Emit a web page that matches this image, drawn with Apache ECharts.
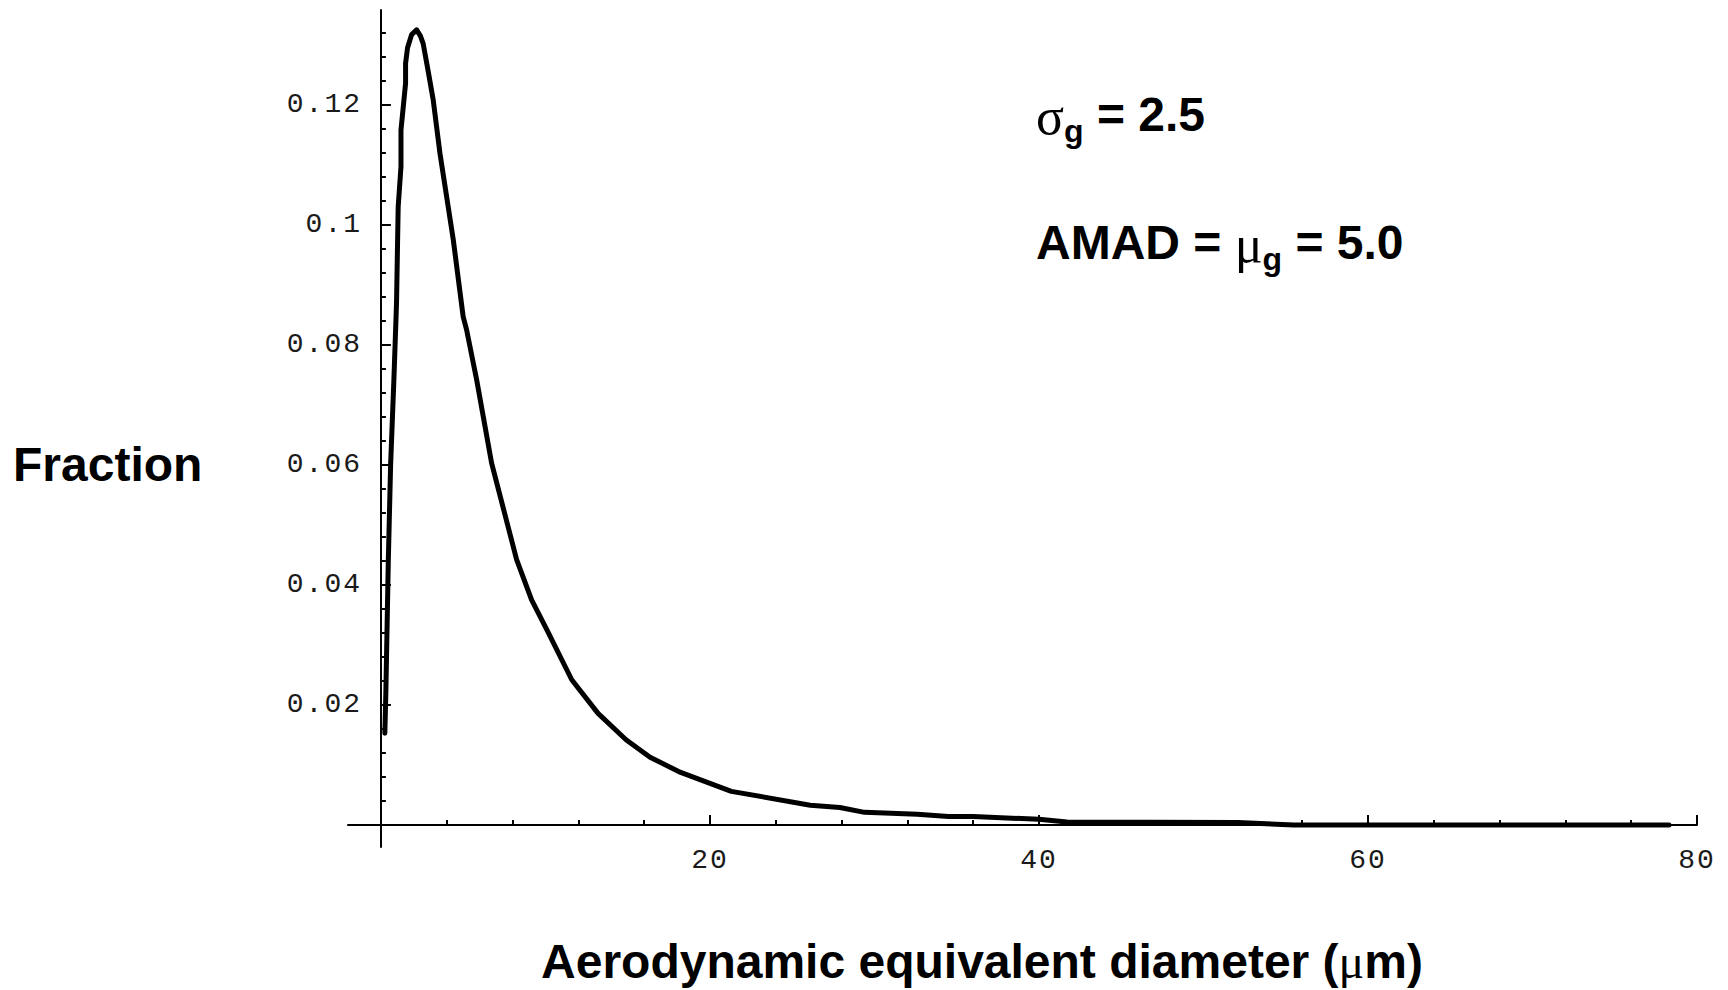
<!DOCTYPE html>
<html>
<head>
<meta charset="utf-8">
<script src="https://cdn.jsdelivr.net/npm/echarts@6/dist/echarts.min.js"></script>
<style>
html,body{margin:0;padding:0;background:#fff;}
#chart{width:1728px;height:990px;}
</style>
</head>
<body>
<div id="chart"></div>
<script>
// Data
var diameter = [0.24, 0.30, 0.45, 0.59, 0.79, 0.95, 1.05, 1.22, 1.22, 1.50, 1.50, 1.62, 1.87, 2.17, 2.40, 2.57, 2.88, 3.18, 3.59, 4.40, 5.00, 5.21, 5.82, 6.73, 8.25, 9.16, 10.13, 11.6, 13.2, 14.9, 16.36, 18.1, 21.3, 26.1, 27.9, 29.4, 32.6, 34.5, 36.0, 40.0, 41.7, 52.1, 55.5, 78.3];
var fraction = [0.0153, 0.022, 0.044, 0.060, 0.0742, 0.087, 0.103, 0.1097, 0.1158, 0.1236, 0.1269, 0.1295, 0.1317, 0.1325, 0.1315, 0.1302, 0.1255, 0.1208, 0.1119, 0.0975, 0.0847, 0.0825, 0.0742, 0.0603, 0.0442, 0.0375, 0.0323, 0.0242, 0.0186, 0.0142, 0.0113, 0.0089, 0.0056, 0.0033, 0.0029, 0.0021, 0.0018, 0.0014, 0.0014, 0.00095, 0.0005, 0.0004, 0, 0];

// Axis ranges and tick values
var xRange = [-2, 80];
var yRange = [-0.00367, 0.1358];
var xMajorTicks = [20, 40, 60, 80];
var xMinorTicks = [4, 8, 12, 16, 24, 28, 32, 36, 44, 48, 52, 56, 64, 68, 72, 76];
var yMajorTicks = [0.02, 0.04, 0.06, 0.08, 0.1, 0.12];
var yMinorTicks = [0.004, 0.008, 0.012, 0.016, 0.024, 0.028, 0.032, 0.036, 0.044, 0.048, 0.052, 0.056, 0.064, 0.068, 0.072, 0.076, 0.084, 0.088, 0.092, 0.096, 0.104, 0.108, 0.112, 0.116, 0.124, 0.128, 0.132];

var xTitle = 'Aerodynamic equivalent diameter (';
var yTitle = 'Fraction';

var points = diameter.map(function (d, i) { return [d, fraction[i]]; });

var chart = echarts.init(document.getElementById('chart'), null, {renderer: 'svg'});

var monoLabel = {fontFamily: '"Liberation Mono", monospace', fontSize: 28, color: '#1a1a1a'};
var axisLineStyle = {color: '#000', width: 2};

var sansBold = {fontFamily: '"Liberation Sans", Arial, sans-serif', fontSize: 48, fontWeight: 'bold', fill: '#000', lineHeight: 48, verticalAlign: 'top'};
var greek = {fontFamily: '"Liberation Serif", serif', fontSize: 52, fontWeight: 'normal', fill: '#000', lineHeight: 48, verticalAlign: 'top'};
var subG = {fontFamily: '"Liberation Sans", Arial, sans-serif', fontSize: 32, fontWeight: 'bold', fill: '#000', lineHeight: 57, verticalAlign: 'bottom'};

var option = {
  animation: false,
  backgroundColor: '#fff',
  grid: {left: 348, right: 31, top: 10, bottom: 143, outerBoundsMode: 'none', containLabel: false},
  xAxis: [
    {
      type: 'value', min: xRange[0], max: xRange[1], position: 'bottom',
      axisLine: {show: true, onZero: true, onZeroAxisIndex: 0, lineStyle: axisLineStyle},
      axisTick: {show: true, inside: true, length: 10, customValues: xMajorTicks, lineStyle: axisLineStyle},
      axisLabel: Object.assign({show: true, margin: -1, customValues: xMajorTicks, formatter: function (v) { return String(v); }}, monoLabel),
      splitLine: {show: false}
    },
    {
      type: 'value', min: xRange[0], max: xRange[1], position: 'bottom',
      axisLine: {show: false, onZero: true, onZeroAxisIndex: 0},
      axisTick: {show: true, inside: true, length: 5, customValues: xMinorTicks, lineStyle: axisLineStyle},
      axisLabel: {show: false},
      splitLine: {show: false}
    }
  ],
  yAxis: [
    {
      type: 'value', min: yRange[0], max: yRange[1], position: 'left',
      axisLine: {show: true, onZero: true, onZeroAxisIndex: 0, lineStyle: axisLineStyle},
      axisTick: {show: true, inside: true, length: 10, customValues: yMajorTicks, lineStyle: axisLineStyle},
      axisLabel: Object.assign({show: true, margin: -14, customValues: yMajorTicks, formatter: function (v) { return String(+v.toFixed(3)); }}, monoLabel),
      splitLine: {show: false}
    },
    {
      type: 'value', min: yRange[0], max: yRange[1], position: 'left',
      axisLine: {show: false, onZero: true, onZeroAxisIndex: 0},
      axisTick: {show: true, inside: true, length: 5, customValues: yMinorTicks, lineStyle: axisLineStyle},
      axisLabel: {show: false},
      splitLine: {show: false}
    }
  ],
  series: [{
    type: 'line',
    xAxisIndex: 0,
    yAxisIndex: 0,
    data: points,
    showSymbol: false,
    smooth: false,
    lineStyle: {color: '#000', width: 5, join: 'round', cap: 'round'},
    silent: true
  }],
  graphic: [
    {
      type: 'text', x: 13, y: 464, silent: true,
      style: {text: yTitle, align: 'left', verticalAlign: 'middle', fontFamily: '"Liberation Sans", Arial, sans-serif', fontSize: 48, fontWeight: 'bold', fill: '#000'}
    },
    {
      type: 'text', x: 982, y: 961, silent: true,
      style: {
        text: '{b|' + xTitle + '}{g|μ}{b|m)}',
        align: 'center', verticalAlign: 'middle',
        rich: {
          b: {fontFamily: '"Liberation Sans", Arial, sans-serif', fontSize: 48, fontWeight: 'bold', fill: '#000'},
          g: {fontFamily: '"Liberation Serif", serif', fontSize: 48, fontWeight: 'normal', fill: '#000'}
        }
      }
    },
    {
      type: 'text', x: 1036, y: 90, silent: true,
      style: {
        text: '{g|σ}{s|g}{b| = 2.5}',
        align: 'left', verticalAlign: 'top',
        rich: {g: greek, s: subG, b: sansBold}
      }
    },
    {
      type: 'text', x: 1036, y: 218, silent: true,
      style: {
        text: '{b|AMAD = }{g|μ}{s|g}{b| = 5.0}',
        align: 'left', verticalAlign: 'top',
        rich: {g: greek, s: subG, b: sansBold}
      }
    }
  ]
};

function spaceTickLabels() {
  var texts = document.querySelectorAll('#chart svg text');
  texts.forEach(function (t) {
    if (/^[0-9.]+$/.test(t.textContent.trim())) {
      t.setAttribute('letter-spacing', '2');
    }
  });
}
chart.on('finished', spaceTickLabels);
chart.setOption(option);
setTimeout(spaceTickLabels, 50);
</script>
</body>
</html>
